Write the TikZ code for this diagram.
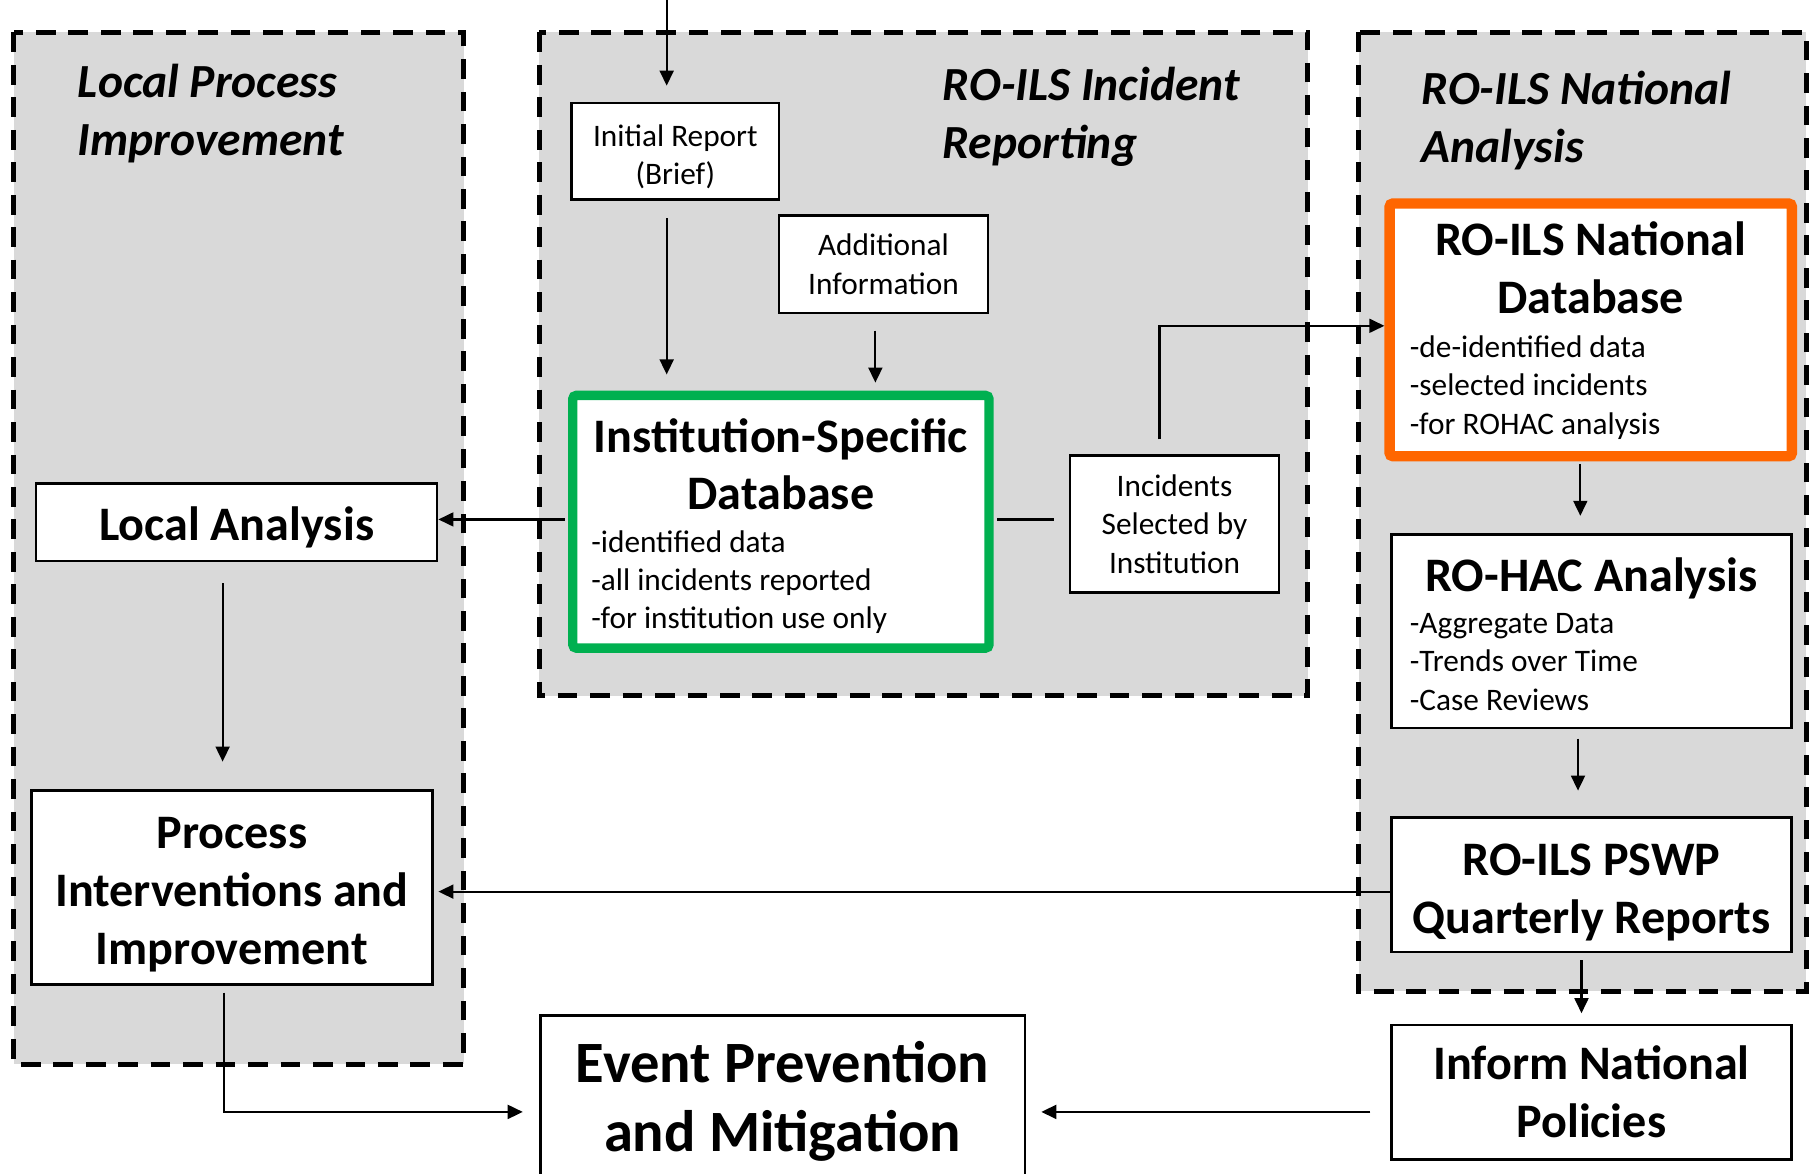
\documentclass[tikz,border=0pt]{standalone}
\usepackage{fontspec}
\setmainfont{Carlito}
\usetikzlibrary{arrows.meta}
\definecolor{grp}{HTML}{D9D9D9}
\definecolor{grn}{HTML}{00B050}
\definecolor{orng}{HTML}{FF6600}
\newcommand\lift[1]{\rule{0pt}{#1}}
\begin{document}
\begin{tikzpicture}[x=1pt,y=-1pt,
 group/.style={draw=black, fill=grp, line width=4.3pt, dash pattern=on 17pt off 11pt},
 plainbox/.style={draw=black, fill=white, line width=2.2pt, inner sep=0pt, align=center},
 smalltext/.style={font=\fontsize{27}{33}\selectfont},
 bigtext/.style={font=\fontsize{41.5}{50}\selectfont\bfseries},
 arr/.style={line width=1.9pt, -{Triangle[length=13pt,width=12pt]}},
 ln/.style={line width=1.9pt},
 ttl/.style={font=\fontsize{41}{50}\selectfont\bfseries\itshape, align=left, anchor=north west, inner sep=0pt}
]
\clip (0,0) rectangle (1568,1012);
\fill[white] (0,0) rectangle (1568,1012);
% groups
\draw[group] (12,28) rectangle (400,918);
\draw[group] (465,28) rectangle (1128,600);
\draw[group] (1172,28) rectangle (1558,855);
\node[ttl] (t1) at (67,55) {Local Process\\Improvement};
\node[ttl] (t2) at (813,58) {RO-ILS Incident\\Reporting};
\node[ttl] (t3) at (1226,61) {RO-ILS National\\Analysis};
% nodes
\node[plainbox, smalltext, minimum width=179pt, minimum height=83pt] (init) at (582.5,130.5) {\lift{28pt}Initial Report\\(Brief)};
\node[plainbox, smalltext, minimum width=180pt, minimum height=84pt] (addl) at (762,228) {Additional\\Information};
\node[draw=grn, fill=white, line width=8pt, rounded corners=3pt, inner sep=0pt, minimum width=359pt, minimum height=218pt] (isdb) at (673.5,450)
 {\parbox{327pt}{\vspace*{8pt}\centering\fontsize{41.5}{49}\selectfont\bfseries Institution-Specific\\Database\par\vspace{4pt}\raggedright\fontsize{27}{33}\selectfont\mdseries -identified data\\-all incidents reported\\-for institution use only\par}};
\node[plainbox, smalltext, minimum width=180pt, minimum height=118pt] (incsel) at (1013,452) {Incidents\\Selected by\\Institution};
\node[plainbox, bigtext, minimum width=346pt, minimum height=67pt] (local) at (204,450.5) {\lift{37pt}Local Analysis};
\node[plainbox, bigtext, minimum width=346pt, minimum height=167pt] (proc) at (200,765.5) {\lift{40pt}Process\\Interventions and\\Improvement};
\node[draw=orng, fill=white, line width=9pt, rounded corners=3pt, inner sep=0pt, minimum width=347pt, minimum height=218pt] (natdb) at (1372,284.5)
 {\parbox{312pt}{\vspace*{1pt}\centering\fontsize{41.5}{50}\selectfont\bfseries RO-ILS National\\Database\par\vspace{5pt}\raggedright\fontsize{27}{33}\selectfont\mdseries -de-identified data\\-selected incidents\\-for ROHAC analysis\par}};
\node[plainbox, minimum width=345pt, minimum height=167pt] (rohac) at (1372.5,544.5)
 {\parbox{313pt}{\vspace*{5pt}\centering\fontsize{41.5}{50}\selectfont\bfseries RO-HAC Analysis\par\vspace{3pt}\raggedright\fontsize{27}{33}\selectfont\mdseries -Aggregate Data\\-Trends over Time\\-Case Reviews\par}};
\node[plainbox, bigtext, minimum width=345pt, minimum height=116pt] (pswp) at (1372.5,763) {\lift{40pt}RO-ILS PSWP\\Quarterly Reports};
\node[plainbox, bigtext, minimum width=345pt, minimum height=116pt] (inform) at (1372.5,942) {Inform National\\Policies};
\node[plainbox, font=\fontsize{50.5}{59}\selectfont\bfseries, minimum width=418pt, minimum height=140pt] (event) at (675,946) {\lift{43pt}Event Prevention\\and Mitigation};
% connectors
\coordinate (top) at (575,0);
\draw[arr, shorten >=14pt] (top) -- ([xshift=-7.5pt]init.north);
\draw[arr, shorten <=15pt, shorten >=14pt] ([xshift=-7.5pt]init.south) -- ([xshift=-7.5pt]init.south |- isdb.north);
\draw[arr, shorten <=14pt, shorten >=7pt] ([xshift=-7pt]addl.south) -- ([xshift=-7pt]addl.south |- isdb.north);
\draw[arr, shorten <=3pt] ([yshift=2pt]isdb.west) -- ([yshift=2pt]isdb.west -| local.east);
\draw[ln, shorten <=3pt, shorten >=13pt] ([yshift=2pt]isdb.east) -- ([yshift=2pt]isdb.east -| incsel.west);
\draw[arr, shorten <=13pt] ([xshift=-13pt]incsel.north) |- ([yshift=3.5pt]natdb.west);
\draw[arr, shorten <=2pt, shorten >=15pt] ([xshift=-9pt]natdb.south) -- ([xshift=-9pt]natdb.south |- rohac.north);
\draw[arr, shorten <=8pt, shorten >=22pt] ([xshift=-11.5pt]rohac.south) -- ([xshift=-11.5pt]rohac.south |- pswp.north);
\draw[arr, shorten <=6pt, shorten >=9pt] ([xshift=-8.5pt]pswp.south) -- ([xshift=-8.5pt]pswp.south |- inform.north);
\draw[arr, shorten >=4pt] ([yshift=-6pt]pswp.west) -- ([yshift=-6pt]pswp.west -| proc.east);
\draw[arr, shorten <=18pt, shorten >=24pt] ([xshift=-12pt]local.south) -- ([xshift=-12pt]local.south |- proc.north);
\draw[arr, shorten <=6pt, shorten >=14pt] ([xshift=-7pt]proc.south) |- ([yshift=-13pt]event.west);
\draw[arr, shorten <=17pt, shorten >=13pt] ([yshift=-17pt]inform.west) -- ([yshift=-17pt]inform.west -| event.east);
\end{tikzpicture}
\end{document}
